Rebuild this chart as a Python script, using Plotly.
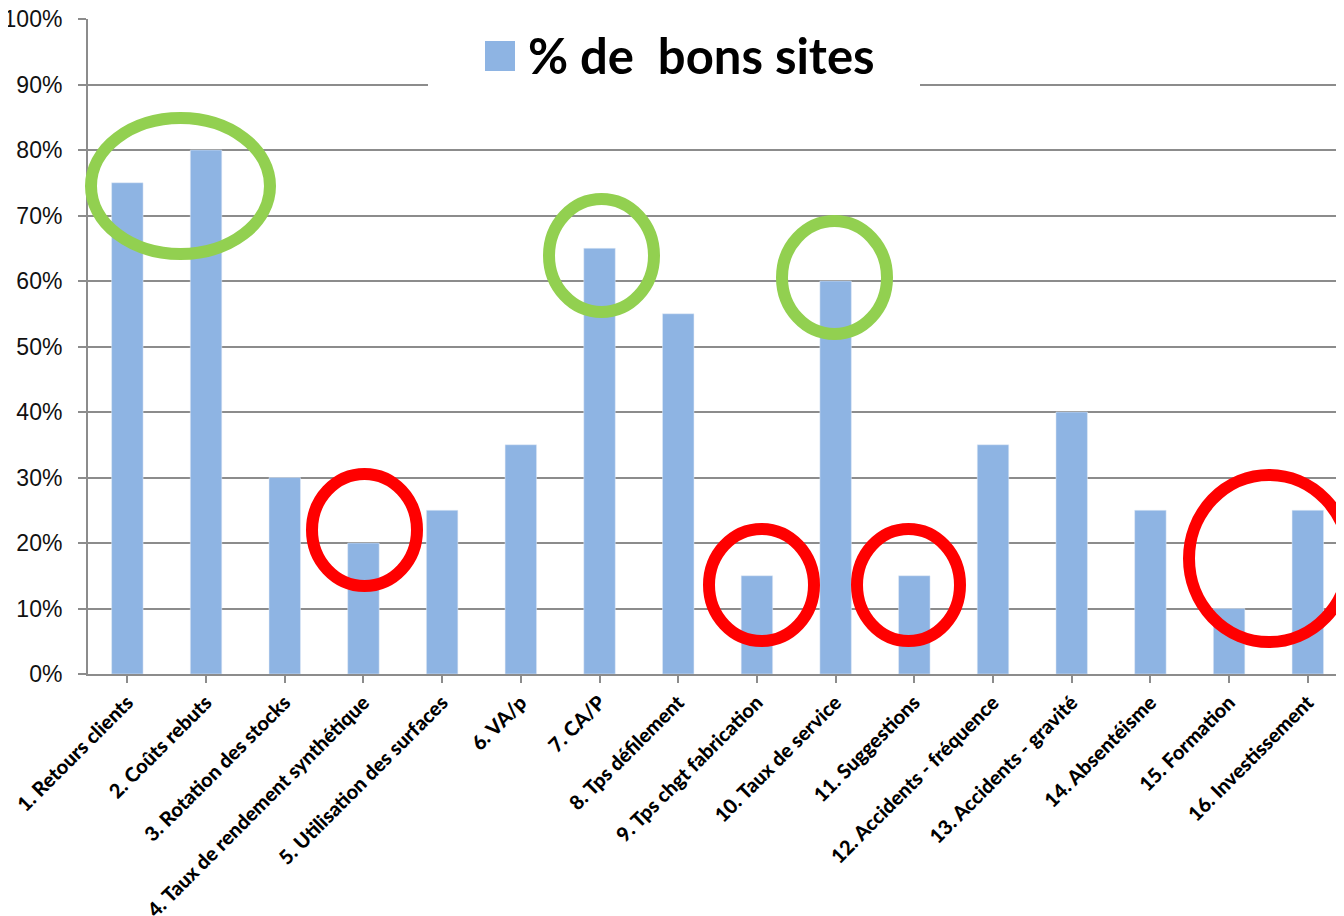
import plotly.graph_objects as go

categories = [
    "1. Retours clients", "2. Coûts rebuts", "3. Rotation des stocks",
    "4. Taux de rendement synthétique", "5. Utilisation des surfaces", "6. VA/p",
    "7. CA/P", "8. Tps défilement", "9. Tps chgt fabrication", "10. Taux de service",
    "11. Suggestions", "12. Accidents - fréquence", "13. Accidents - gravité",
    "14. Absentéisme", "15. Formation", "16. Investissement",
]
values = [0.75, 0.80, 0.30, 0.20, 0.25, 0.35, 0.65, 0.55, 0.15, 0.60,
          0.15, 0.35, 0.40, 0.25, 0.10, 0.25]
series_name = "% de\u00a0 bons sites"
y_ticks = [0, 0.1, 0.2, 0.3, 0.4, 0.5, 0.6, 0.7, 0.8, 0.9, 1.0]
y_tick_text = ["0%", "10%", "20%", "30%", "40%", "50%", "60%", "70%", "80%", "90%", "100%"]

BAR = "#8EB4E3"
GRID = "#8C8C8C"
GREEN = "#92D050"
RED = "#FF0000"

# page has an 8px body margin
OFF = 8
W, H = 1344 - OFF, 916 - OFF
L, R, T, B = 88 - OFF, 0, 19 - OFF, 242
PW, PH = W - L - R, H - T - B
PLOT_LEFT = OFF + L
PLOT_BOTTOM = OFF + H - B


def px(x):
    return (x - PLOT_LEFT) / PW


def py(y):
    return (PLOT_BOTTOM - y) / PH


fig = go.Figure()
fig.add_trace(go.Bar(x=list(range(len(categories))), y=values, marker_color=BAR,
                     name=series_name, showlegend=False))

fig.update_layout(
    width=W, height=H,
    margin=dict(l=L, r=R, t=T, b=B, pad=0, autoexpand=False),
    paper_bgcolor="white", plot_bgcolor="white",
    bargap=0.6,
    xaxis=dict(
        range=[-0.5, 15.46], automargin=False,
        tickmode="array", tickvals=list(range(len(categories))), ticktext=categories,
        tickangle=-45, tickson="boundaries", ticks="outside", ticklen=7,
        tickcolor=GRID, tickwidth=2,
        showline=True, linecolor=GRID, linewidth=2,
        showgrid=False, zeroline=False, ticklabeloverflow="allow",
        tickfont=dict(family="Lato", size=20, color="black", weight=900),
    ),
    yaxis=dict(
        range=[0, 1.0], automargin=False,
        tickmode="array", tickvals=y_ticks, ticktext=y_tick_text,
        ticks="outside", ticklen=8, tickcolor=GRID, tickwidth=2,
        showline=True, linecolor=GRID, linewidth=2,
        showgrid=True, gridcolor=GRID, gridwidth=2,
        zeroline=False, ticklabelstandoff=11, ticklabeloverflow="allow",
        tickfont=dict(family="Liberation Sans", size=23, color="#111111"),
    ),
)

shapes = []
# legend box
shapes.append(dict(type="rect", xref="paper", yref="paper",
                   x0=px(428), x1=px(920), y0=py(100), y1=py(-5),
                   fillcolor="white", line=dict(width=0), layer="above"))
shapes.append(dict(type="rect", xref="paper", yref="paper",
                   x0=px(485), x1=px(515), y0=py(71), y1=py(41),
                   fillcolor=BAR, line=dict(width=0), layer="above"))

# highlight ellipses (pixel boxes, outer edge)
ellipses = [
    (GREEN, 85, 276, 112, 260),
    (GREEN, 543, 660, 193, 318),
    (GREEN, 776, 893, 215, 340),
    (RED, 306, 423, 468, 592),
    (RED, 703, 820, 523, 647),
    (RED, 851, 966, 523, 647),
    (RED, 1183, 1355, 469, 648),
]
for col, x0, x1, y0, y1 in ellipses:
    shapes.append(dict(type="circle", xref="paper", yref="paper",
                       x0=px(x0 + 6), x1=px(x1 - 6), y0=py(y1 - 6), y1=py(y0 + 6),
                       line=dict(color=col, width=12), layer="above"))
fig.update_layout(shapes=shapes)

fig.add_annotation(xref="paper", yref="paper", x=px(526), y=py(55),
                   xanchor="left", yanchor="middle", showarrow=False,
                   text=series_name,
                   font=dict(family="Lato", size=49, color="black", weight="bold"))

fig.write_html("out.html")
